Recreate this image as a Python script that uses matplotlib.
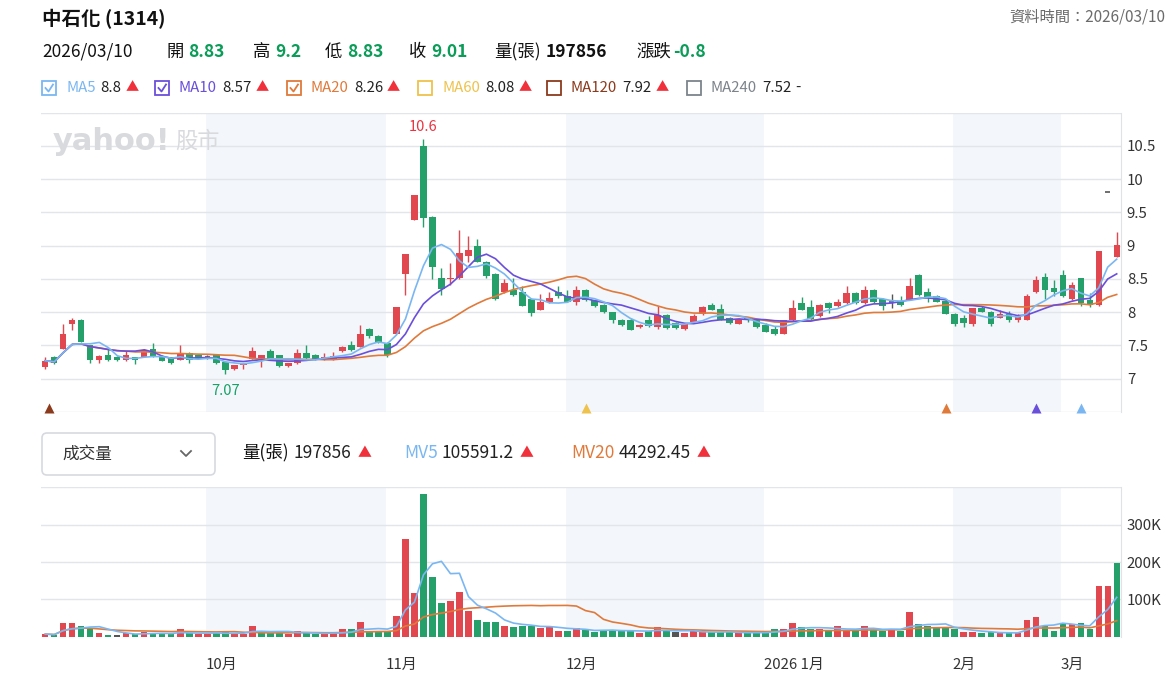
import numpy as np
import pandas as pd
import matplotlib
matplotlib.use('Agg')
import matplotlib.pyplot as plt
import matplotlib.transforms as mtransforms
from matplotlib.patches import FancyBboxPatch, Rectangle

plt.rcParams['font.family'] = ['Noto Sans CJK TC', 'DejaVu Sans']

W, H = 1172, 688

# daily quotes (120 trading days, index 0 .. 119)
opens = [7.17, 7.32, 7.45, 7.83, 7.89, 7.50, 7.28, 7.35, 7.33, 7.28,
         7.32, 7.33, 7.45, 7.33, 7.32, 7.28, 7.39, 7.35, 7.33, 7.35,
         7.25, 7.14, 7.20, 7.30, 7.29, 7.41, 7.35, 7.19, 7.23, 7.39,
         7.36, 7.29, 7.30, 7.41, 7.50, 7.48, 7.75, 7.65, 7.53, 7.68,
         8.58, 9.39, 10.50, 9.43, 8.51, 8.50, 8.51, 8.84, 9.00, 8.75,
         8.58, 8.30, 8.34, 8.30, 8.20, 8.04, 8.15, 8.30, 8.25, 8.16,
         8.34, 8.18, 8.11, 8.00, 7.89, 7.88, 7.78, 7.89, 7.78, 7.96,
         7.84, 7.75, 7.85, 7.97, 8.11, 8.05, 7.91, 7.83, 7.91, 7.88,
         7.81, 7.75, 7.68, 7.88, 8.14, 8.08, 7.94, 8.14, 8.09, 8.14,
         8.29, 8.14, 8.34, 8.20, 8.15, 8.17, 8.19, 8.56, 8.31, 8.25,
         8.17, 7.98, 7.91, 7.83, 8.06, 8.01, 7.92, 7.97, 7.88, 7.89,
         8.30, 8.53, 8.36, 8.56, 8.20, 8.51, 8.19, 8.11, 9.81, 8.83]
highs = [7.32, 7.34, 7.83, 7.91, 7.90, 7.50, 7.35, 7.44, 7.34, 7.42,
         7.33, 7.45, 7.53, 7.35, 7.33, 7.50, 7.40, 7.37, 7.35, 7.36,
         7.26, 7.21, 7.24, 7.48, 7.36, 7.45, 7.36, 7.24, 7.45, 7.50,
         7.37, 7.39, 7.40, 7.49, 7.56, 7.81, 7.77, 7.66, 7.55, 8.08,
         8.88, 9.76, 10.60, 9.44, 8.66, 8.74, 9.23, 9.15, 9.10, 8.77,
         8.59, 8.50, 8.51, 8.40, 8.21, 8.27, 8.30, 8.39, 8.34, 8.40,
         8.35, 8.19, 8.12, 8.01, 7.90, 7.91, 7.82, 7.94, 8.09, 7.97,
         7.86, 7.83, 7.98, 8.10, 8.14, 8.12, 7.93, 7.91, 7.93, 7.90,
         7.84, 7.79, 7.89, 8.18, 8.23, 8.18, 8.13, 8.15, 8.20, 8.40,
         8.30, 8.40, 8.35, 8.21, 8.28, 8.25, 8.51, 8.58, 8.36, 8.26,
         8.18, 7.99, 7.96, 8.07, 8.10, 8.02, 8.03, 8.02, 7.97, 8.28,
         8.54, 8.59, 8.49, 8.64, 8.46, 8.52, 8.29, 8.92, 9.81, 9.20]
lows = [7.14, 7.22, 7.44, 7.74, 7.55, 7.23, 7.24, 7.27, 7.27, 7.27,
        7.22, 7.32, 7.33, 7.26, 7.22, 7.28, 7.23, 7.29, 7.30, 7.22,
        7.07, 7.13, 7.15, 7.29, 7.18, 7.29, 7.18, 7.18, 7.22, 7.30,
        7.28, 7.28, 7.28, 7.40, 7.42, 7.47, 7.62, 7.53, 7.33, 7.67,
        8.26, 9.38, 9.28, 8.50, 8.26, 8.41, 8.50, 8.76, 8.75, 8.52,
        8.19, 8.29, 8.25, 8.09, 7.94, 8.03, 8.14, 8.22, 8.15, 8.11,
        8.17, 8.08, 7.99, 7.84, 7.80, 7.73, 7.76, 7.78, 7.75, 7.75,
        7.75, 7.74, 7.84, 7.96, 8.03, 7.88, 7.83, 7.82, 7.86, 7.77,
        7.70, 7.66, 7.67, 7.87, 8.03, 7.89, 7.93, 7.99, 8.08, 8.13,
        8.13, 8.13, 8.14, 8.03, 8.07, 8.10, 8.18, 8.25, 8.15, 8.16,
        7.97, 7.80, 7.78, 7.80, 8.00, 7.79, 7.91, 7.86, 7.85, 7.88,
        8.29, 8.20, 8.24, 8.23, 8.18, 8.10, 8.08, 8.09, 9.81, 8.83]
closes = [7.27, 7.24, 7.67, 7.89, 7.55, 7.28, 7.34, 7.28, 7.28, 7.35,
          7.28, 7.43, 7.33, 7.27, 7.23, 7.39, 7.28, 7.30, 7.33, 7.23,
          7.13, 7.20, 7.23, 7.42, 7.35, 7.30, 7.19, 7.24, 7.39, 7.31,
          7.29, 7.32, 7.34, 7.48, 7.43, 7.68, 7.64, 7.54, 7.35, 8.08,
          8.88, 9.76, 9.42, 8.68, 8.35, 8.52, 8.89, 8.93, 8.76, 8.54,
          8.20, 8.44, 8.26, 8.10, 7.99, 8.15, 8.21, 8.24, 8.16, 8.34,
          8.18, 8.10, 8.00, 7.88, 7.81, 7.74, 7.81, 7.80, 7.96, 7.76,
          7.76, 7.82, 7.94, 8.08, 8.04, 7.89, 7.84, 7.90, 7.88, 7.78,
          7.71, 7.67, 7.88, 8.06, 8.04, 7.90, 8.11, 8.06, 8.16, 8.29,
          8.14, 8.34, 8.15, 8.09, 8.15, 8.11, 8.39, 8.26, 8.23, 8.16,
          7.98, 7.82, 7.84, 8.06, 8.01, 7.83, 7.98, 7.88, 7.93, 8.24,
          8.48, 8.33, 8.31, 8.25, 8.41, 8.14, 8.11, 8.92, 9.81, 9.01]
volumes = [7000, 4500, 38000, 36000, 29000, 22000, 9000, 5000, 5000, 9000,
           7000, 13000, 9000, 7000, 6000, 20000, 9000, 6000, 6000, 9000,
           16000, 9000, 6000, 29000, 13000, 11000, 11000, 6000, 16000, 11000,
           6000, 6000, 9000, 20000, 20000, 40000, 13000, 16000, 13000, 56000,
           261000, 116000, 382000, 161000, 89000, 96000, 121000, 70000, 46000, 40000,
           40000, 29000, 27000, 29000, 29000, 24000, 27000, 16000, 16000, 22000,
           18000, 12000, 18000, 18000, 16000, 16000, 9000, 16000, 27000, 16000,
           12000, 9000, 16000, 13000, 12000, 12000, 12000, 9000, 9000, 12000,
           12000, 20000, 20000, 36000, 25000, 20000, 20000, 16000, 29000, 18000,
           18000, 29000, 18000, 16000, 20000, 16000, 65000, 33000, 29000, 22000,
           22000, 20000, 12000, 12000, 9000, 13000, 9000, 9000, 11000, 46000,
           54000, 29000, 16000, 36000, 34000, 38000, 21000, 135000, 135000, 197856]

# first trading day of each month shown on the axis
month_starts = [18, 38, 58, 80, 101, 113]
month_labels = ['10月', '11月', '12月', '2026 1月', '2月', '3月']

# legend rows
ma_names = ['MA5', 'MA10', 'MA20', 'MA60', 'MA120', 'MA240']
ma_values = ['8.8', '8.57', '8.26', '8.08', '7.92', '7.52']
ma_trend = ['▲', '▲', '▲', '▲', '▲', '-']
ma_checked = [True, True, True, False, False, False]
mv_names = ['MV5', 'MV20']
mv_values = ['105591.2', '44292.45']

# signal triangles at the bottom of the price panel
signal_idx = [0, 60, 100, 110, 115]
signal_ma = ['MA120', 'MA60', 'MA20', 'MA10', 'MA5']

RED = '#e0474f'
GREEN = '#26a06a'
GRAY = '#555555'
TXT_GREEN = '#0a9c58'
UP_RED = '#f0303a'
GRID = '#e2e5ea'
BAND = '#f3f6fa'
MA_COLORS = {'MA5': '#7ab7f2', 'MA10': '#6a4fdb', 'MA20': '#e07a3b',
             'MA60': '#eec24c', 'MA120': '#8b3a1c', 'MA240': '#7c838b'}
MV_COLORS = {'MV5': '#7ab7f2', 'MV20': '#e07a3b'}

o = np.array(opens)
h = np.array(highs)
l = np.array(lows)
c = np.array(closes)
v = np.array(volumes, dtype=float)
n = len(c)
x = np.arange(n)

fig = plt.figure(figsize=(W / 100, H / 100), dpi=100)

# overlay in pixel coordinates for the header rows
ax0 = fig.add_axes([0, 0, 1, 1])
ax0.set_xlim(0, W)
ax0.set_ylim(H, 0)
ax0.axis('off')


def ptxt(px, py, s, **kw):
    kw.setdefault('va', 'center')
    kw.setdefault('ha', 'left')
    return ax0.text(px, py, s, **kw)


def right_of(t, gap):
    fig.canvas.draw()
    return t.get_window_extent().x1 + gap


# row 1
ptxt(42, 19, '中石化 (1314)', fontsize=14, fontweight='bold', color='#111111')
ptxt(1165, 17, '資料時間：2026/03/10', fontsize=11, color='#6b6b6b', ha='right')

# row 2 : quote of the last day
chg = round(c[-1] - c[-2], 2)
ptxt(42, 52, '2026/03/10', fontsize=12.5, color='#111111')
quote = [(166, '開', f'{o[-1]:.2f}'), (253, '高', f'{h[-1]:g}'),
         (325, '低', f'{l[-1]:.2f}'), (409, '收', f'{c[-1]:.2f}')]
for qx, lab, val in quote:
    ptxt(qx, 52, lab, fontsize=12.5, color='#111111')
    ptxt(qx + 22, 52, val, fontsize=12.5, color=TXT_GREEN, fontweight='bold')
ptxt(494, 52, '量(張)', fontsize=12.5, color='#111111')
ptxt(546, 52, f'{int(v[-1])}', fontsize=12.5, color='#111111', fontweight='bold')
ptxt(636, 52, '漲跌', fontsize=12.5, color='#111111')
ptxt(673, 52, f'{chg:g}', fontsize=12.5, color=TXT_GREEN, fontweight='bold')

# row 3 : moving average legend
legend_x = [42, 155, 287, 418, 547, 687]
for lx, name, val, tr, chk in zip(legend_x, ma_names, ma_values, ma_trend, ma_checked):
    col = MA_COLORS[name]
    ax0.add_patch(Rectangle((lx, 81), 14, 14, fill=False, edgecolor=col, lw=1.3))
    if chk:
        ax0.plot([lx + 3.5, lx + 6.5, lx + 11], [88, 91.5, 84.5], color=col, lw=1.3)
    t1 = ptxt(lx + 24, 88, name, fontsize=10.8, color=col)
    t2 = ptxt(right_of(t1, 5), 88, val, fontsize=10.8, color='#222222')
    ptxt(right_of(t2, 4), 88, tr, fontsize=9.5 if tr == '▲' else 10.8,
         color=UP_RED if tr == '▲' else '#222222')

# row 4 : volume selector + legend
ax0.add_patch(FancyBboxPatch((42, 433), 173, 42, boxstyle='round,pad=0,rounding_size=5',
                             fill=False, edgecolor='#d6d9de', lw=1.2))
ptxt(62, 454, '成交量', fontsize=12, color='#333333')
ax0.plot([181, 186, 191], [451, 456, 451], color='#666666', lw=1.3)

t0 = ptxt(242, 453, '量(張)', fontsize=12.5, color='#111111')
t = ptxt(right_of(t0, 5), 453, f'{int(v[-1])}', fontsize=12.5, color='#222222')
ptxt(right_of(t, 6), 453, '▲', fontsize=10, color=UP_RED)
mv_x = [404, 571]
for mx, name, val in zip(mv_x, mv_names, mv_values):
    t1 = ptxt(mx, 453, name, fontsize=12.5, color=MV_COLORS[name])
    t2 = ptxt(right_of(t1, 4), 453, val, fontsize=12.5, color='#222222')
    ptxt(right_of(t2, 6), 453, '▲', fontsize=10, color=UP_RED)

# ---------------- price panel ----------------
left, right = 40.8, 1121.2
ax = fig.add_axes([left / W, 1 - 412 / H, (right - left) / W, (412 - 112.7) / H])
ax.set_xlim(-0.5, n - 0.5)
ax.set_ylim(6.5, 11.0)
ax.set_facecolor('none')

bounds = [m - 0.2 for m in month_starts]
for a, b in [(bounds[0], bounds[1]), (bounds[2], bounds[3]), (bounds[4], bounds[5])]:
    ax.axvspan(a, b, color=BAND, zorder=0, lw=0)

for yv in np.arange(6.5, 11.01, 0.5):
    ax.axhline(yv, color=GRID, lw=1, zorder=0.5)

ax.text(0.011, 0.905, 'yahoo!', transform=ax.transAxes, fontsize=22, fontweight='bold',
        color='#d9dadd', va='center', ha='left', family='DejaVu Sans', zorder=0.6)
ax.text(0.124, 0.905, '股市', transform=ax.transAxes, fontsize=16,
        color='#d9dadd', va='center', ha='left', zorder=0.6)

cols = np.where(c > o, RED, np.where(c < o, GREEN, GRAY))
body_w = 0.7
ax.vlines(x, l, h, colors=cols, lw=1, zorder=2)
bot = np.minimum(o, c)
hgt = np.abs(c - o)
mask = hgt > 0
ax.bar(x[mask], hgt[mask], bottom=bot[mask], width=body_w, color=cols[mask], zorder=3, lw=0)
ax.hlines(c[~mask], x[~mask] - 0.3, x[~mask] + 0.3, colors=GRAY, lw=1.2, zorder=3)

cs = pd.Series(c)
for name, win in [('MA20', 20), ('MA10', 10), ('MA5', 5)]:
    ax.plot(x, cs.rolling(win, min_periods=1).mean(), color=MA_COLORS[name], lw=1.2, zorder=4)

# max / min labels
imax = int(np.argmax(h))
imin = int(np.argmin(l))
ax.annotate(f'{h[imax]:g}', (imax, h[imax]), xytext=(0, 4), textcoords='offset points',
            ha='center', va='bottom', fontsize=10.5, color='#ea3340')
ax.annotate(f'{l[imin]:.2f}', (imin, l[imin]), xytext=(0, -7), textcoords='offset points',
            ha='center', va='top', fontsize=10.5, color='#17a267')

trans = mtransforms.blended_transform_factory(ax.transData, ax.transAxes)
for si, sm in zip(signal_idx, signal_ma):
    ax.plot(si + 0.4 if si == 0 else si, 0.015, marker='^', ms=7, color=MA_COLORS[sm],
            transform=trans, clip_on=False, zorder=5, mec='none')

ax.yaxis.tick_right()
ax.set_yticks(np.arange(7, 10.51, 0.5))
ax.set_yticklabels([f'{t:g}' for t in np.arange(7, 10.51, 0.5)])
ax.tick_params(axis='y', length=0, pad=4, labelsize=10.8, labelcolor='#333333')
ax.set_xticks([])
for s in ['left', 'top', 'bottom']:
    ax.spines[s].set_visible(False)
ax.spines['right'].set_color('#dfe2e6')

# ---------------- volume panel ----------------
axv = fig.add_axes([left / W, 1 - 636.7 / H, (right - left) / W, (636.7 - 487.3) / H])
axv.set_xlim(-0.5, n - 0.5)
axv.set_ylim(0, 400000)
axv.set_facecolor('none')
for a, b in [(bounds[0], bounds[1]), (bounds[2], bounds[3]), (bounds[4], bounds[5])]:
    axv.axvspan(a, b, color=BAND, zorder=0, lw=0)
for yv in [0, 100000, 200000, 300000, 400000]:
    axv.axhline(yv, color=GRID, lw=1, zorder=0.5)

prev = np.concatenate([[o[0]], c[:-1]])
vcols = np.where(c > prev, RED, np.where(c < prev, GREEN, GRAY))
axv.bar(x, v, width=body_w, color=vcols, zorder=3, lw=0)
vs = pd.Series(v)
axv.plot(x, vs.rolling(20, min_periods=1).mean(), color=MV_COLORS['MV20'], lw=1.2, zorder=4)
axv.plot(x, vs.rolling(5, min_periods=1).mean(), color=MV_COLORS['MV5'], lw=1.2, zorder=4)

axv.yaxis.tick_right()
axv.set_yticks([100000, 200000, 300000])
axv.set_yticklabels(['100K', '200K', '300K'])
axv.tick_params(axis='y', length=0, pad=4, labelsize=10.8, labelcolor='#333333')
axv.set_xticks([])
for s in ['left', 'top', 'bottom']:
    axv.spines[s].set_visible(False)
axv.spines['right'].set_color('#dfe2e6')

vtrans = mtransforms.blended_transform_factory(axv.transData, axv.transAxes)
for bx, lab in zip(bounds, month_labels):
    axv.text(bx, -0.19, lab, transform=vtrans, ha='left', va='center',
             fontsize=10.8, color='#333333')

fig.savefig('out.png', dpi=100)
